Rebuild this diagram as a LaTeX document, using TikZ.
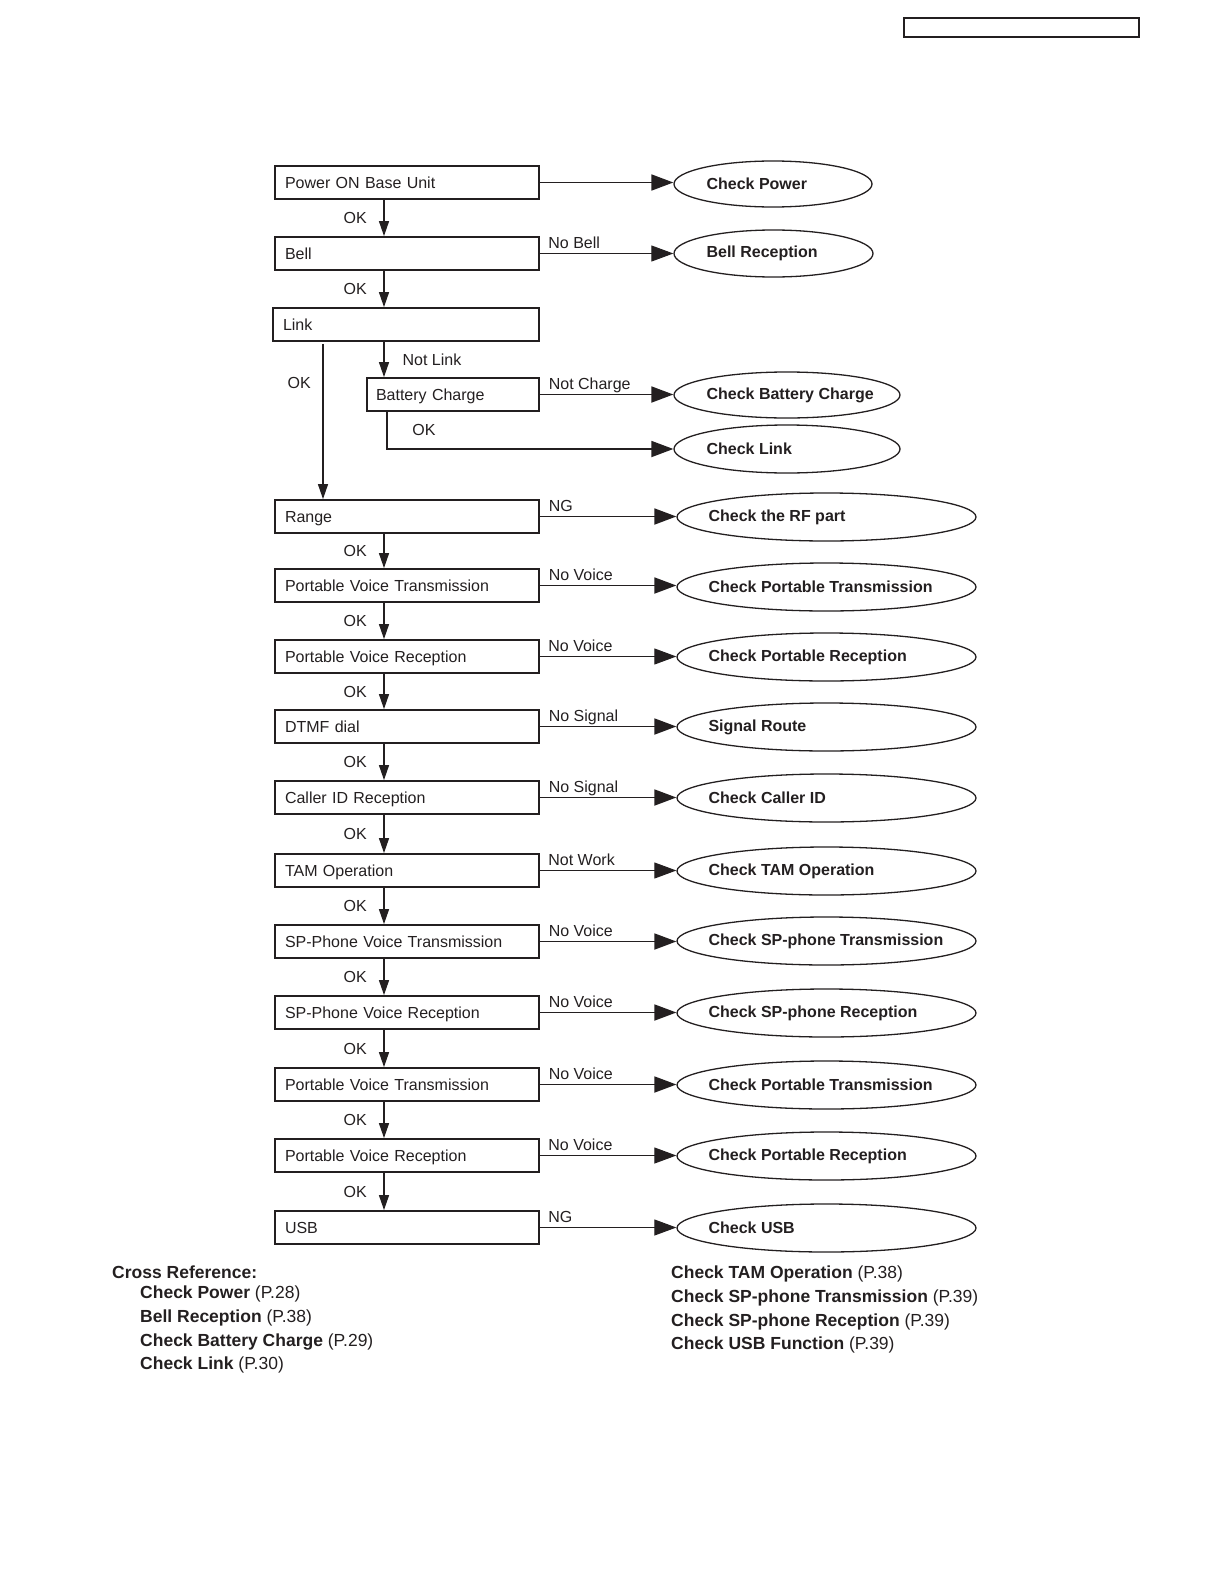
\documentclass[tikz,border=0pt]{standalone}
\usepackage{fontspec}
\setmainfont{Liberation Sans}
\usetikzlibrary{arrows.meta,shapes.geometric}
\definecolor{ink}{RGB}{35,31,32}
\newcommand\fsz{\fontsize{16}{19}\selectfont}
\newcommand\fxr{\fontsize{17.5}{21}\selectfont}
\tikzset{
  box/.style={draw=ink, line width=1.8pt, minimum height=33pt, text width=244pt,
    inner xsep=10pt, inner ysep=0pt, align=left, text height=11.5pt, text depth=0pt,
    font=\fsz, text=ink},
  oval/.style={draw=ink, ellipse, line width=1.3pt, inner sep=0pt},
  otext/.style={anchor=west, inner sep=0pt, font=\fsz\bfseries, text=ink},
  thickarr/.style={draw=ink, line width=1.8pt, -{Triangle[length=22pt,width=16pt]}},
  thinarr/.style={draw=ink, line width=1pt, -{Triangle[length=22pt,width=16pt]}},
  varr/.style={draw=ink, line width=1.3pt, -{Triangle[length=15pt,width=10pt]}},
  hlab/.style={pos=0, anchor=base west, inner sep=0pt, xshift=8pt, yshift=5.5pt, font=\fsz, text=ink},
  oklab/.style={midway, left=16.5pt, inner sep=0pt, font=\fsz, text=ink},
  xref/.style={anchor=base west, inner sep=0pt, font=\fxr, text=ink},
}
\begin{document}
\begin{tikzpicture}[x=1pt,y=-1pt]
\useasboundingbox (0,0) rectangle (1224,1584);
% header box
\node[draw=ink, line width=1.3pt, minimum width=235pt, minimum height=19pt, inner sep=0pt] (hdr) at (1021.5,27.5) {};
% guide coordinates
\coordinate (ax) at (384,0);
\coordinate (lx) at (323,0);
\coordinate (bx) at (387,0);
% left boxes
\node[box] (b1) at (407,182.5) {Power ON Base Unit};
\node[box] (b2) at (407,253.5) {Bell};
\node[box, text width=246pt] (b3) at (406,324.5) {Link};
\node[box, text width=154pt, inner xsep=9pt] (bc) at (453,394.5) {Battery Charge};
\node[box] (b4) at (407,516.5) {Range};
\node[box] (b5) at (407,585.5) {Portable Voice Transmission};
\node[box] (b6) at (407,656.5) {Portable Voice Reception};
\node[box] (b7) at (407,726.5) {DTMF dial};
\node[box] (b8) at (407,797.5) {Caller ID Reception};
\node[box] (b9) at (407,870.5) {TAM Operation};
\node[box] (b10) at (407,941.5) {SP-Phone Voice Transmission};
\node[box] (b11) at (407,1012.5) {SP-Phone Voice Reception};
\node[box] (b12) at (407,1084.5) {Portable Voice Transmission};
\node[box] (b13) at (407,1155.5) {Portable Voice Reception};
\node[box] (b14) at (407,1227.5) {USB};
% ovals
\node[oval, minimum width=198pt, minimum height=46pt] (e1) at (773,184) {};
\node[otext] (t1) at ([xshift=33pt]e1.west) {Check Power};
\node[oval, minimum width=199pt, minimum height=47pt] (e2) at (773.5,253.5) {};
\node[otext] (t2) at ([xshift=33pt]e2.west) {Bell Reception};
\node[oval, minimum width=226pt, minimum height=46pt] (e3) at (787,395) {};
\node[otext] (t3) at ([xshift=33pt]e3.west) {Check Battery Charge};
\node[oval, minimum width=226pt, minimum height=48pt] (e4) at (787,449) {};
\node[otext] (t4) at ([xshift=33pt]e4.west) {Check Link};
\foreach \n/\y/\t in {5/517/Check the RF part, 6/587/Check Portable Transmission,
  7/657/Check Portable Reception, 8/727/Signal Route, 9/798/Check Caller ID,
  10/871/Check TAM Operation, 11/941/Check SP-phone Transmission,
  12/1013/Check SP-phone Reception, 13/1085/Check Portable Transmission,
  14/1156/Check Portable Reception, 15/1228/Check USB}{
  \node[oval, minimum width=299pt, minimum height=48pt] (e\n) at (826.5,\y) {};
  \node[otext] (t\n) at ([xshift=32pt]e\n.west) {\t};
}
% horizontal connectors
\draw[thickarr] (b1.east) -- (b1.east -| e1.west);
\draw[thinarr] (b2.east) -- node[hlab] {No Bell} (b2.east -| e2.west);
\draw[thickarr] (bc.east) -- node[hlab] {Not Charge} (bc.east -| e3.west);
\draw[thickarr] (bc.south -| bx) |- node[pos=0.25, right=24.5pt, inner sep=0pt, font=\fsz, text=ink] {OK} (e4.west);
\draw[thickarr] (b4.east) -- node[hlab] {NG} (b4.east -| e5.west);
\draw[thickarr] (b5.east) -- node[hlab] {No Voice} (b5.east -| e6.west);
\draw[thinarr] (b6.east) -- node[hlab] {No Voice} (b6.east -| e7.west);
\draw[thickarr] (b7.east) -- node[hlab] {No Signal} (b7.east -| e8.west);
\draw[thickarr] (b8.east) -- node[hlab] {No Signal} (b8.east -| e9.west);
\draw[thinarr] (b9.east) -- node[hlab] {Not Work} (b9.east -| e10.west);
\draw[thickarr] (b10.east) -- node[hlab] {No Voice} (b10.east -| e11.west);
\draw[thickarr] (b11.east) -- node[hlab] {No Voice} (b11.east -| e12.west);
\draw[thickarr] (b12.east) -- node[hlab] {No Voice} (b12.east -| e13.west);
\draw[thinarr] (b13.east) -- node[hlab] {No Voice} (b13.east -| e14.west);
\draw[thinarr] (b14.east) -- node[hlab] {NG} (b14.east -| e15.west);
% vertical connectors
\draw[varr] (b1.south -| ax) -- node[oklab] {OK} (b2.north -| ax);
\draw[varr] (b2.south -| ax) -- node[oklab] {OK} (b3.north -| ax);
\draw[varr] (b3.south -| ax) -- node[midway, right=18pt, inner sep=0pt, font=\fsz, text=ink] {Not Link} (bc.north -| ax);
\draw[varr] ([yshift=-2pt]b3.south -| lx) -- node[pos=0.25, left=11.5pt, inner sep=0pt, font=\fsz, text=ink] {OK} (b4.north -| lx);
\draw[varr] (b4.south -| ax) -- node[oklab] {OK} (b5.north -| ax);
\draw[varr] (b5.south -| ax) -- node[oklab] {OK} (b6.north -| ax);
\draw[varr] (b6.south -| ax) -- node[oklab] {OK} (b7.north -| ax);
\draw[varr] (b7.south -| ax) -- node[oklab] {OK} (b8.north -| ax);
\draw[varr] (b8.south -| ax) -- node[oklab] {OK} (b9.north -| ax);
\draw[varr] (b9.south -| ax) -- node[oklab] {OK} (b10.north -| ax);
\draw[varr] (b10.south -| ax) -- node[oklab] {OK} (b11.north -| ax);
\draw[varr] (b11.south -| ax) -- node[oklab] {OK} (b12.north -| ax);
\draw[varr] (b12.south -| ax) -- node[oklab] {OK} (b13.north -| ax);
\draw[varr] (b13.south -| ax) -- node[oklab] {OK} (b14.north -| ax);
% cross reference
\node[xref] (x0) at (112,1278) {\bfseries Cross Reference:};
\node[xref] (x1) at (140,1298) {\textbf{Check Power} (P.28)};
\node[xref] (x2) at (140,1322) {\textbf{Bell Reception} (P.38)};
\node[xref] (x3) at (140,1346) {\textbf{Check Battery Charge} (P.29)};
\node[xref] (x4) at (140,1369) {\textbf{Check Link} (P.30)};
\node[xref] (x5) at (671,1278) {\textbf{Check TAM Operation} (P.38)};
\node[xref] (x6) at (671,1302) {\textbf{Check SP-phone Transmission} (P.39)};
\node[xref] (x7) at (671,1326) {\textbf{Check SP-phone Reception} (P.39)};
\node[xref] (x8) at (671,1349) {\textbf{Check USB Function} (P.39)};
\end{tikzpicture}
\end{document}
